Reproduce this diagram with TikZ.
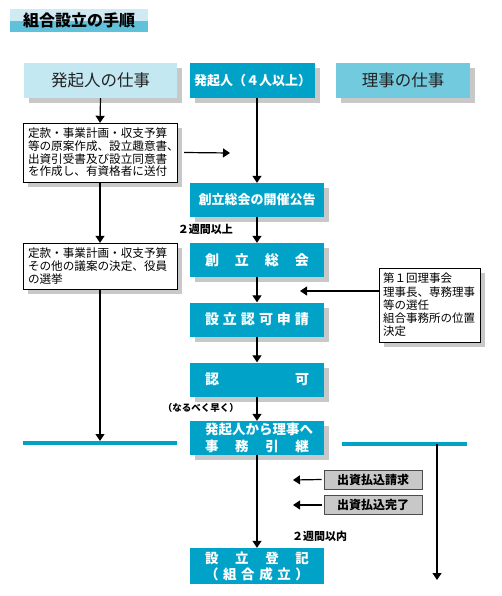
\documentclass[tikz,border=0pt]{standalone}
\usepackage{fontspec}
\setmainfont{Noto Sans CJK JP}
\usetikzlibrary{arrows.meta,shadows}

\definecolor{hdrlight}{HTML}{C4E8F2}
\definecolor{hdrblue}{HTML}{00A2C7}
\definecolor{hdrmid}{HTML}{72CADF}
\definecolor{shadowgray}{HTML}{C8C8C8}
\definecolor{titlelight}{HTML}{CFEAF3}
\definecolor{titledark}{HTML}{5FC1DA}
\definecolor{textdark}{HTML}{222222}

\tikzset{
  shadowed/.style={drop shadow={shadow xshift=5pt,shadow yshift=-5pt,fill=shadowgray,opacity=1}},
  header/.style={minimum height=35pt,inner sep=0pt,shadowed,
    font=\fontsize{16.5}{18}\selectfont},
  stepbox/.style={fill=hdrblue,text=white,minimum width=134pt,minimum height=34pt,
    inner sep=0pt,align=center,font=\fontsize{14}{16.5}\selectfont\bfseries},
  notebox/.style={draw=black,fill=white,shadowed,align=left,inner xsep=5pt,inner ysep=0pt,
    font=\fontsize{11.6}{12.6}\selectfont},
  graybox/.style={draw=gray!60!black,fill=shadowgray,line width=0.8pt,minimum width=98pt,
    minimum height=19pt,inner sep=0pt,font=\fontsize{12}{14}\selectfont\bfseries},
  smalllbl/.style={inner sep=0pt,font=\fontsize{11}{13}\selectfont\bfseries},
  flow/.style={line width=1.2pt,-{Triangle[length=7pt,width=9pt]}},
  bar/.style={line width=4pt,hdrblue}
}

\begin{document}
\begin{tikzpicture}[x=1pt,y=-1pt]
  \useasboundingbox (0,0) rectangle (501,596);
  % title band
  \fill[titlelight] (10,9) rectangle (148,21);
  \fill[titledark] (10,21) rectangle (148,32);
  \node[inner sep=0pt,font=\fontsize{16}{18}\selectfont\bfseries] (title) at (79,20) {組合設立の手順};

  % headers
  \node[header,fill=hdrlight,text=textdark,minimum width=153pt] (hdrL) at (100.5,80.5) {発起人の仕事};
  \node[header,fill=hdrblue,text=white,minimum width=125pt,font=\fontsize{13}{15}\selectfont\bfseries] (hdrM) at (252.5,80.5) {発起人（４人以上）};
  \node[header,fill=hdrmid,text=textdark,minimum width=134pt] (hdrR) at (403,80.5) {理事の仕事};

  % middle column
  \node[stepbox,shadowed,font=\fontsize{13}{15}\selectfont\bfseries] (kokoku) at (257,200) {創立総会の開催公告};
  \node[stepbox,shadowed,text width=104pt] (sokai) at (257,260) {創\hfill 立\hfill 総\hfill 会};
  \node[stepbox,shadowed,text width=104pt] (shinsei) at (257,319.5) {設\hfill 立\hfill 認\hfill 可\hfill 申\hfill 請};
  \node[stepbox,shadowed,text width=104pt] (ninka) at (257,379.5) {認\hfill 可};
  \node[stepbox,shadowed,text width=104pt,font=\fontsize{13.5}{16.5}\selectfont\bfseries] (hikitsugi) at (257,438)
    {発起人から理事へ\\事\hfill 務\hfill 引\hfill 継};
  \node[stepbox,text width=104pt,minimum height=36pt,font=\fontsize{13.5}{16}\selectfont\bfseries] (toki) at (257,566)
    {設\hfill 立\hfill 登\hfill 記\\（\hfill 組\hfill 合\hfill 成\hfill 立\hfill ）};

  % left column
  \node[notebox,text width=144pt,minimum height=59pt] (genan) at (100,152.5)
    {定款・事業計画・収支予算\\等の原案作成、設立趣意書、\\出資引受書及び設立同意書\\を作成し、有資格者に送付};
  \node[notebox,text width=144pt,minimum height=46pt] (giketsu) at (100,266)
    {定款・事業計画・収支予算\\その他の議案の決定、役員\\の選挙};

  % right column
  \node[notebox,text width=93pt,minimum height=74pt,inner xsep=4pt,font=\fontsize{11.5}{13.3}\selectfont] (rijikai) at (429.5,305)
    {第１回理事会\\理事長、専務理事\\等の選任\\組合事務所の位置\\決定};
  \node[graybox] (seikyu) at (373,479.5) {出資払込請求};
  \node[graybox] (kanryo) at (373,505) {出資払込完了};

  % labels
  \node[smalllbl,anchor=east] (lblA) at (233,229) {２週間以上};
  \node[smalllbl,anchor=east,font=\fontsize{9.5}{11}\selectfont\bfseries] (lblB) at (239,408) {（なるべく早く）};
  \node[smalllbl,anchor=west] (lblC) at (292,536) {２週間以内};

  % bars and free ends
  \coordinate (barL1) at (23,443);
  \coordinate (barL2) at (177,443);
  \coordinate (barR1) at (342,444);
  \coordinate (barR2) at (467,444);
  \coordinate (riR) at (437,444);
  \coordinate (endR) at (437,580);
  \coordinate (endL) at (100,441);
  \coordinate (toMid) at (230,153);
  \coordinate (fromRiji) at (300,291);
  \coordinate (fromSeikyu) at (293,480);
  \coordinate (fromKanryo) at (293,505);
  \draw[bar] (barL1) -- (barL2);
  \draw[bar] (barR1) -- (barR2);

  % connectors
  \draw[flow] (hdrL.south) -- (genan.north);
  \draw[flow] (genan.south) -- (giketsu.north);
  \draw[flow] (giketsu.south) -- (endL);
  \draw[flow] ([xshift=7pt]genan.east) -- (toMid);
  \draw[flow] (hdrM.south -| kokoku.north) -- (kokoku.north);
  \draw[flow] (kokoku.south) -- (sokai.north);
  \draw[flow] (sokai.south) -- (shinsei.north);
  \draw[flow] (shinsei.south) -- (ninka.north);
  \draw[flow] (ninka.south) -- (hikitsugi.north);
  \draw[flow] (hikitsugi.south) -- (toki.north);
  \draw[flow] (rijikai.west |- fromRiji) -- (fromRiji);
  \draw[flow] ([xshift=-2pt]seikyu.west) -- (fromSeikyu);
  \draw[flow] ([xshift=-2pt]kanryo.west) -- (fromKanryo);
  \draw[flow] (riR) -- (endR);
\end{tikzpicture}
\end{document}
